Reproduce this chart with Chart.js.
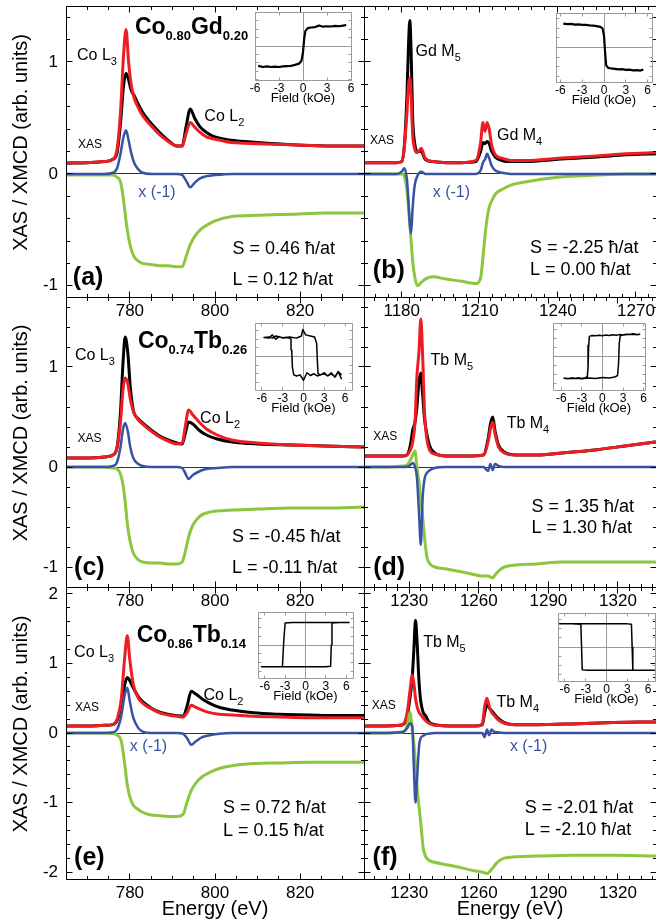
<!DOCTYPE html>
<html lang="en">
<head>
  <meta charset="UTF-8" />
  <title>XAS / XMCD - CoGd, CoTb</title>
  <script src="https://cdn.jsdelivr.net/npm/chart.js@4.4.1/dist/chart.umd.min.js"></script>
  <style>
    body { margin: 0; background: #fff; }
    #fig { position: relative; width: 656px; height: 921px; overflow: hidden; background: #fff; }
    #fig canvas { position: absolute; }
  </style>
</head>
<body>
<div id="fig"></div>
<script>
const FONT = '"Liberation Sans", Arial, Helvetica, sans-serif';
const BLACK = '#000000', RED = '#ee1d23', BLUE = '#3853a4', GREEN = '#8dc63f';

// tick labels
const xTicksCo = [780, 800, 820];
const xTicksGd = [1180, 1210, 1240, 1270];
const xTicksTb = [1230, 1260, 1290, 1320];
const yTicksTop = [-1, 0, 1];
const yTicksBot = [-2, -1, 0, 1, 2];
const fieldTicks = [-6, -3, 0, 3, 6];

// (a) Co0.80Gd0.20, Co L edge
const eA     = [765, 770, 774, 776, 777, 777.8, 778.5, 779.1, 779.7, 780.3, 781, 782, 783, 785, 787, 789, 791, 792.3, 793.2, 794.2, 795.2, 796.5, 798, 800, 804, 810, 818, 826, 835];
const blackA = [0.095, 0.1, 0.11, 0.13, 0.19, 0.45, 0.78, 0.9, 0.84, 0.75, 0.7, 0.62, 0.55, 0.45, 0.37, 0.3, 0.25, 0.25, 0.42, 0.58, 0.5, 0.42, 0.37, 0.33, 0.3, 0.28, 0.26, 0.25, 0.25];
const redA   = [0.1, 0.1, 0.11, 0.13, 0.22, 0.55, 1.05, 1.29, 1.0, 0.8, 0.68, 0.59, 0.52, 0.43, 0.35, 0.29, 0.25, 0.25, 0.36, 0.46, 0.42, 0.37, 0.33, 0.31, 0.28, 0.27, 0.26, 0.25, 0.25];
const blueA  = [0, 0, 0, 0.01, 0.05, 0.18, 0.33, 0.39, 0.3, 0.19, 0.1, 0.04, 0.01, 0, 0, 0, 0, -0.01, -0.06, -0.12, -0.08, -0.04, -0.02, -0.01, 0, 0, 0, 0, 0];
const greenA = [-0.01, -0.01, -0.01, -0.01, -0.03, -0.07, -0.23, -0.42, -0.57, -0.67, -0.74, -0.78, -0.8, -0.81, -0.82, -0.82, -0.83, -0.83, -0.74, -0.63, -0.56, -0.5, -0.46, -0.42, -0.38, -0.37, -0.36, -0.35, -0.35];

// (b) Co0.80Gd0.20, Gd M edge
const eB     = [1165.5, 1172, 1178, 1180, 1181, 1182, 1182.6, 1183.1, 1183.6, 1184.2, 1185, 1186, 1187.5, 1189, 1192, 1197, 1203, 1208.5, 1210.3, 1211.2, 1212, 1212.8, 1213.6, 1214.6, 1216, 1218.5, 1222, 1228, 1240, 1255, 1266, 1277.7];
const blackB = [0.1, 0.1, 0.1, 0.11, 0.25, 0.7, 1.15, 1.37, 1.1, 0.5, 0.27, 0.2, 0.2, 0.13, 0.11, 0.1, 0.1, 0.11, 0.2, 0.28, 0.27, 0.29, 0.27, 0.2, 0.15, 0.12, 0.11, 0.11, 0.13, 0.15, 0.17, 0.18];
const redB   = [0.1, 0.1, 0.1, 0.11, 0.24, 0.55, 0.8, 0.86, 0.7, 0.35, 0.22, 0.19, 0.23, 0.14, 0.11, 0.1, 0.1, 0.12, 0.28, 0.46, 0.38, 0.46, 0.4, 0.25, 0.17, 0.14, 0.12, 0.12, 0.14, 0.16, 0.18, 0.19];
const blueB  = [0, 0, 0, 0.02, 0.05, -0.05, -0.25, -0.45, -0.53, -0.3, -0.1, -0.02, 0.02, 0, 0, 0, 0, 0, 0.03, 0.1, 0.13, 0.18, 0.14, 0.07, 0.03, 0.01, 0, 0, 0, 0, 0, 0];
const greenB = [0, 0, 0, 0, -0.02, -0.15, -0.3, -0.45, -0.6, -0.78, -0.92, -1.0, -0.97, -0.94, -0.92, -0.94, -0.96, -0.98, -0.93, -0.75, -0.55, -0.4, -0.3, -0.24, -0.18, -0.14, -0.1, -0.07, -0.03, -0.01, 0, 0];

// (c) Co0.74Tb0.26, Co L edge
const eC     = [765, 770, 774, 776, 777, 777.8, 778.4, 778.9, 779.5, 780.1, 780.8, 782, 783, 785, 787, 789, 791, 792.3, 793, 793.8, 794.8, 796.5, 798, 800.5, 804, 810, 818, 826, 835];
const blackC = [0.09, 0.09, 0.1, 0.12, 0.2, 0.55, 1.05, 1.3, 1.15, 0.8, 0.57, 0.48, 0.44, 0.37, 0.31, 0.27, 0.24, 0.23, 0.33, 0.45, 0.43, 0.36, 0.32, 0.28, 0.25, 0.23, 0.22, 0.21, 0.2];
const redC   = [0.09, 0.09, 0.1, 0.12, 0.19, 0.45, 0.78, 0.89, 0.84, 0.68, 0.56, 0.47, 0.43, 0.36, 0.3, 0.26, 0.23, 0.24, 0.4, 0.57, 0.52, 0.44, 0.38, 0.32, 0.27, 0.24, 0.22, 0.21, 0.2];
const blueC  = [0, 0, 0, 0.01, 0.05, 0.2, 0.38, 0.44, 0.36, 0.2, 0.09, 0.03, 0.01, 0, 0, 0, 0, -0.01, -0.06, -0.12, -0.08, -0.04, -0.02, -0.01, 0, 0, 0, 0, 0];
const greenC = [0, 0, 0, -0.01, -0.02, -0.07, -0.18, -0.35, -0.6, -0.75, -0.86, -0.93, -0.95, -0.96, -0.96, -0.97, -0.97, -0.95, -0.85, -0.7, -0.58, -0.49, -0.46, -0.44, -0.43, -0.42, -0.41, -0.41, -0.4];

// (d) Co0.74Tb0.26, Tb M edge
const eD     = [1210.5, 1220, 1227, 1229, 1230.5, 1231.5, 1232.5, 1233.3, 1234.2, 1235, 1235.8, 1236.6, 1237.6, 1239, 1241, 1246, 1255, 1262, 1264, 1265, 1266, 1267, 1268.5, 1271, 1276, 1285, 1296, 1310, 1323, 1336];
const blackD = [0.11, 0.11, 0.11, 0.12, 0.22, 0.37, 0.45, 0.6, 0.85, 0.94, 0.72, 0.48, 0.33, 0.2, 0.14, 0.11, 0.11, 0.12, 0.28, 0.43, 0.5, 0.36, 0.22, 0.15, 0.12, 0.12, 0.14, 0.17, 0.21, 0.25];
const redD   = [0.11, 0.11, 0.11, 0.12, 0.17, 0.25, 0.45, 0.9, 1.15, 1.48, 1.1, 0.55, 0.28, 0.16, 0.13, 0.11, 0.11, 0.12, 0.25, 0.38, 0.45, 0.33, 0.2, 0.14, 0.12, 0.12, 0.14, 0.17, 0.21, 0.25];
const blueD  = [0, 0, 0, 0, 0.02, 0.04, 0, -0.1, -0.45, -0.78, -0.3, -0.12, -0.06, -0.03, -0.01, 0, 0, 0, -0.04, 0.03, -0.03, 0.03, 0.01, 0, 0, 0, 0, 0, 0, 0];
const greenD = [0, 0, 0.01, 0.02, 0.07, 0.12, 0.16, 0, -0.15, -0.33, -0.5, -0.7, -0.9, -0.97, -1.0, -1.02, -1.06, -1.09, -1.09, -1.1, -1.11, -1.08, -1.04, -1.0, -0.98, -0.97, -0.95, -0.95, -0.95, -0.95];

// (e) Co0.86Tb0.14, Co L edge
const eE     = [765, 770, 774, 776, 777, 778, 778.8, 779.4, 780, 780.8, 782, 783, 785, 787, 789, 791, 792.5, 793.5, 794.4, 795.5, 797, 799, 801, 804, 809, 815, 822, 828, 835];
const blackE = [0.1, 0.1, 0.11, 0.12, 0.18, 0.4, 0.7, 0.8, 0.75, 0.65, 0.52, 0.45, 0.36, 0.3, 0.27, 0.25, 0.24, 0.4, 0.6, 0.56, 0.49, 0.42, 0.37, 0.33, 0.29, 0.27, 0.26, 0.25, 0.25];
const redE   = [0.1, 0.1, 0.11, 0.12, 0.2, 0.5, 1.1, 1.4, 1.05, 0.7, 0.5, 0.43, 0.35, 0.29, 0.26, 0.24, 0.23, 0.3, 0.4, 0.37, 0.33, 0.29, 0.27, 0.26, 0.24, 0.23, 0.22, 0.22, 0.22];
const blueE  = [0, 0, 0, 0.01, 0.05, 0.25, 0.55, 0.65, 0.45, 0.22, 0.07, 0.02, 0, 0, 0, 0, -0.01, -0.08, -0.17, -0.12, -0.06, -0.03, -0.01, 0, 0, 0, 0, 0, 0];
const greenE = [0, 0, 0, -0.01, -0.03, -0.12, -0.45, -0.75, -0.92, -1.04, -1.1, -1.14, -1.18, -1.19, -1.2, -1.2, -1.17, -0.98, -0.83, -0.72, -0.63, -0.56, -0.51, -0.47, -0.44, -0.43, -0.42, -0.42, -0.42];

// (f) Co0.86Tb0.14, Tb M edge
const eF     = [1210.5, 1220, 1226, 1228, 1229.3, 1230.3, 1231.3, 1232, 1232.7, 1233.4, 1234.2, 1235, 1236, 1237, 1238.5, 1241, 1250, 1258, 1261.5, 1262.5, 1263.5, 1264.5, 1265.5, 1266.5, 1268, 1271, 1276, 1285, 1300, 1318, 1336];
const blackF = [0.1, 0.1, 0.11, 0.14, 0.28, 0.5, 0.8, 1.2, 1.62, 1.3, 0.75, 0.45, 0.3, 0.25, 0.16, 0.12, 0.1, 0.1, 0.12, 0.28, 0.42, 0.36, 0.32, 0.28, 0.22, 0.15, 0.12, 0.12, 0.13, 0.15, 0.16];
const redF   = [0.1, 0.1, 0.11, 0.15, 0.33, 0.6, 0.83, 0.72, 0.5, 0.38, 0.3, 0.26, 0.22, 0.18, 0.14, 0.11, 0.1, 0.1, 0.12, 0.38, 0.5, 0.38, 0.3, 0.26, 0.2, 0.14, 0.12, 0.12, 0.13, 0.15, 0.16];
const blueF  = [0, 0, 0.01, 0.03, 0.08, 0.14, 0.1, -0.5, -1.0, -0.65, -0.2, -0.07, -0.04, -0.02, -0.01, 0, 0, 0, 0, -0.06, 0.05, -0.03, 0.05, 0.02, 0.01, 0, 0, 0, 0, 0, 0];
const greenF = [0, 0, 0.01, 0.03, 0.13, 0.3, 0.05, -0.15, -0.45, -0.8, -1.05, -1.3, -1.65, -1.77, -1.83, -1.86, -1.92, -1.98, -2.0, -2.01, -2.02, -2.0, -1.96, -1.92, -1.86, -1.8, -1.78, -1.77, -1.76, -1.76, -1.77];

// hysteresis loops (field kOe, normalised signal)
const hA = [-5.6, -5, -4.5, -4, -3.5, -3, -2.5, -2, -1.5, -1, -0.5, -0.2, 0, 0.15, 0.3, 0.6, 1, 1.5, 2, 2.5, 3, 3.5, 4, 4.5, 5, 5.4];
const mA = [-0.95, -1.0, -0.97, -1.0, -0.98, -1.0, -0.97, -0.96, -0.95, -0.9, -0.84, -0.72, -0.3, 0.35, 0.72, 0.85, 0.88, 0.9, 0.98, 0.92, 0.94, 0.93, 0.96, 0.94, 0.97, 1.0];
const hB = [-5.6, -5, -4.5, -4, -3.5, -3, -2.5, -2, -1.5, -1, -0.5, -0.2, 0, 0.15, 0.3, 0.6, 1, 1.5, 2, 2.5, 3, 3.5, 4, 4.5, 5, 5.4];
const mB = [1.0, 0.98, 0.99, 0.96, 0.97, 0.95, 0.95, 0.93, 0.92, 0.9, 0.87, 0.8, 0.5, -0.2, -0.75, -0.86, -0.88, -0.9, -0.92, -0.91, -0.94, -0.93, -0.96, -0.95, -0.97, -0.93];
const hC = [5.5, 5, 4.6, 4, 3.5, 3, 2.5, 2, 1.5, 1, 0.5, 0, -0.5, -1, -1.4, -1.6, -1.7, -1.8, -2.2, -3, -3.5, -4, -4.5, -5, -5.7,
            -5, -4.5, -4, -3, -2, -1, -0.3, -0.1, 0.3, 1, 1.6, 1.9, 2.0, 2.1, 2.5, 3, 3.5, 4, 4.5, 5, 5.5];
const mC = [-0.85, -0.7, -0.95, -0.8, -0.9, -0.75, -0.85, -0.9, -0.8, -0.88, -0.75, -1.1, -0.85, -0.9, -0.85, -0.5, 0.3, 0.8, 0.88, 0.85, 0.92, 0.8, 1.0, 0.85, 0.88,
            0.9, 0.85, 0.95, 0.87, 0.9, 0.85, 0.95, 1.25, 1.0, 0.95, 0.9, 0.6, -0.2, -0.8, -0.85, -0.8, -0.9, -0.75, -0.95, -0.7, -1.05];
const hD = [5.5, 5, 4.5, 4, 3.5, 3, 2.5, 2, 1.5, 1, 0.5, 0, -0.5, -1, -1.5, -1.9, -2.0, -2.1, -2.2, -2.5, -3, -3.5, -4, -4.5, -5, -5.6,
            -5, -4, -3, -2, -1, 0, 1, 1.8, 2.2, 2.35, 2.45, 2.6, 3, 4, 5, 5.5];
const mD = [1.0, 0.97, 1.02, 0.98, 1.0, 0.96, 0.98, 0.95, 0.97, 0.94, 0.96, 0.93, 0.95, 0.93, 0.94, 0.9, 0.5, -0.5, -0.9, -0.95, -0.98, -0.95, -0.99, -0.96, -1.0, -0.97,
            -0.99, -0.97, -1.0, -0.96, -0.98, -0.94, -0.96, -0.92, -0.85, -0.3, 0.6, 0.93, 0.96, 1.0, 0.98, 1.0];
const hE = [6.5, 5, 3, 0, -2, -3.0, -3.2, -3.4, -5, -6.5, -5, -3, 0, 3, 3.7, 3.8, 3.9, 5, 6.5];
const mE = [1.0, 1.0, 1.0, 1.0, 1.0, 0.98, 0.2, -0.97, -0.97, -0.97, -0.97, -0.97, -0.97, -0.97, -0.95, 0, 0.98, 1.0, 1.0];
const hF = [7, 5, 3, 0, -3, -3.5, -3.6, -3.7, -5, -6.8, -5, -3, 0, 3, 3.6, 3.7, 3.8, 5, 7];
const mF = [-1.0, -1.0, -1.0, -1.0, -1.0, -0.98, 0, 0.98, 1.0, 1.0, 1.0, 1.0, 1.0, 1.0, 0.98, 0, -1.0, -1.0, -1.0];

Chart.defaults.font.family = FONT;
Chart.defaults.color = '#000';

const fig = document.getElementById('fig');
function addCanvas(left, top, w, h) {
  const c = document.createElement('canvas');
  c.width = w; c.height = h;
  c.style.left = left + 'px';
  c.style.top = top + 'px';
  fig.appendChild(c);
  return c;
}

const f = (size, bold) => (bold ? 'bold ' : '') + size + 'px ' + FONT;
const pts = (xs, ys) => xs.map((x, i) => ({ x, y: ys[i] }));
const near = (list, v) => list.some(m => Math.abs(m - v) < 1e-6);

// border, inward ticks, zero lines and text labels
function framePlugin(p) {
  const at = v => Math.floor(v) + 0.5;
  const steps = (min, max, step) => {
    const out = [];
    for (let v = Math.ceil(min / step - 1e-9) * step; v <= max + 1e-9; v += step) out.push(Math.round(v * 1000) / 1000);
    return out;
  };
  return {
    id: 'frame',
    beforeDatasetsDraw(chart) {
      const { ctx, chartArea: a, scales: { x, y } } = chart;
      ctx.save();
      ctx.strokeStyle = p.zeroColor;
      ctx.lineWidth = 1;
      ctx.beginPath();
      if (p.zeroY) { const yy = at(y.getPixelForValue(0)); ctx.moveTo(a.left, yy); ctx.lineTo(a.right, yy); }
      if (p.zeroX) { const xx = at(x.getPixelForValue(0)); ctx.moveTo(xx, a.top); ctx.lineTo(xx, a.bottom); }
      ctx.stroke();
      ctx.restore();
    },
    afterDatasetsDraw(chart) {
      const { ctx, chartArea: a, scales: { x, y } } = chart;
      const L = at(a.left), R = at(a.right), T = at(a.top), B = at(a.bottom);
      ctx.save();
      ctx.strokeStyle = p.frameColor;
      ctx.lineWidth = 1;
      ctx.beginPath();
      ctx.moveTo(L, T); ctx.lineTo(R, T);
      ctx.moveTo(L, B); ctx.lineTo(R, B);
      ctx.moveTo(L, T); ctx.lineTo(L, B);
      ctx.moveTo(R, T); ctx.lineTo(R, B);
      ctx.stroke();

      ctx.strokeStyle = p.tickColor;
      ctx.beginPath();
      steps(x.min, x.max, p.xStep).forEach(v => {
        const px = at(x.getPixelForValue(v));
        const len = near(p.xMajor, v) ? p.major : p.minor;
        ctx.moveTo(px, B); ctx.lineTo(px, B - len);
        ctx.moveTo(px, T); ctx.lineTo(px, T + len);
      });
      steps(y.min, y.max, p.yStep).forEach(v => {
        const py = at(y.getPixelForValue(v));
        const len = near(p.yMajor, v) ? p.major : p.minor;
        ctx.moveTo(L, py); ctx.lineTo(L + len, py);
        ctx.moveTo(R, py); ctx.lineTo(R - len, py);
      });
      ctx.stroke();

      ctx.textAlign = 'left';
      ctx.textBaseline = 'alphabetic';
      (p.notes || []).forEach(n => {
        let cx = x.getPixelForValue(n.x);
        const cy = y.getPixelForValue(n.y);
        ctx.fillStyle = n.color || '#000';
        n.parts.forEach(([t, font, dy]) => {
          ctx.font = font;
          ctx.fillText(t, cx, cy + (dy || 0));
          cx += ctx.measureText(t).width;
        });
      });

      if (p.yTitle) {
        ctx.translate(21, (a.top + a.bottom) / 2 - 9);
        ctx.rotate(-Math.PI / 2);
        ctx.font = f(20);
        ctx.fillStyle = '#000';
        ctx.textAlign = 'center';
        ctx.textBaseline = 'middle';
        ctx.fillText(p.yTitle, 0, 0);
      }
      ctx.restore();
    }
  };
}

function fixAxis(w, h) {
  return s => {
    if (w !== undefined) s.width = w;
    if (h !== undefined) s.height = h;
    s.paddingLeft = s.paddingRight = s.paddingTop = s.paddingBottom = 0;
  };
}

function curve(e, v, color, width, order) {
  return { data: pts(e, v), borderColor: color, borderWidth: width, order,
           pointRadius: 0, fill: false, cubicInterpolationMode: 'monotone',
           borderJoinStyle: 'round', borderCapStyle: 'round' };
}

function spectrumPanel(s) {
  const left = s.col === 0;
  const cv = addCanvas(left ? 0 : 330, s.top, left ? 366 : 326, s.height);
  return new Chart(cv, {
    type: 'line',
    data: { datasets: [
      curve(s.e, s.blue, BLUE, 2.5, 1),
      curve(s.e, s.green, GREEN, 3, 2),
      curve(s.e, s.red, RED, 3, 3),
      curve(s.e, s.black, BLACK, 3, 4)
    ] },
    options: {
      responsive: false, animation: false, devicePixelRatio: 1, events: [],
      layout: { autoPadding: false, padding: { top: 6, right: left ? 2 : 0, left: 0, bottom: 0 } },
      plugins: { legend: { display: false }, tooltip: { enabled: false } },
      scales: {
        x: {
          type: 'linear', min: s.xMin, max: s.xMax,
          grid: { display: false, drawTicks: false }, border: { display: false },
          afterBuildTicks: ax => { ax.ticks = s.xTicks.map(v => ({ value: v })); },
          afterFit: fixAxis(undefined, s.xH),
          ticks: { display: true, padding: 4, autoSkip: false, maxRotation: 0, color: '#000',
                   font: { size: 17 }, callback: v => String(v) },
          title: { display: !!s.xTitle, text: s.xTitle || '', font: { size: 20 }, color: '#000', padding: 0 }
        },
        y: {
          type: 'linear', min: s.yMin, max: s.yMax,
          grid: { display: false, drawTicks: false }, border: { display: false },
          afterBuildTicks: ax => { ax.ticks = s.yTicks.map(v => ({ value: v })); },
          afterFit: fixAxis(left ? 66 : 34, undefined),
          ticks: { display: left, padding: 8, autoSkip: false, color: '#000',
                   font: { size: 17 }, callback: v => String(v) }
        }
      }
    },
    plugins: [framePlugin({
      frameColor: '#000', tickColor: '#000', zeroColor: '#333', zeroY: true,
      xStep: 5, yStep: 0.2, xMajor: s.xTicks, yMajor: s.yTicks, major: 6, minor: 3.5,
      notes: s.notes, yTitle: left ? 'XAS / XMCD (arb. units)' : null
    })]
  });
}

function loopInset(s) {
  const cv = addCanvas(s.bx - 10, s.by - 4, s.bw + 20, s.bh + 30);
  return new Chart(cv, {
    type: 'line',
    data: { datasets: [{ data: pts(s.h, s.m), borderColor: '#000', borderWidth: s.lw,
                         pointRadius: 0, fill: false, tension: 0, borderJoinStyle: 'round' }] },
    options: {
      responsive: false, animation: false, devicePixelRatio: 1, events: [],
      layout: { autoPadding: false, padding: { top: 4, right: 10, left: 0, bottom: 0 } },
      plugins: { legend: { display: false }, tooltip: { enabled: false } },
      scales: {
        x: {
          type: 'linear', min: s.hMin, max: s.hMax,
          grid: { display: false, drawTicks: false }, border: { display: false },
          afterBuildTicks: ax => { ax.ticks = fieldTicks.map(v => ({ value: v })); },
          afterFit: fixAxis(undefined, 26),
          ticks: { padding: 1, autoSkip: false, maxRotation: 0, color: '#000',
                   font: { size: 12 }, callback: v => String(v) },
          title: { display: true, text: 'Field (kOe)', font: { size: 13 }, color: '#000', padding: 0 }
        },
        y: {
          type: 'linear', min: -s.mMax, max: s.mMax,
          grid: { display: false, drawTicks: false }, border: { display: false },
          afterFit: fixAxis(10, undefined),
          ticks: { display: false }
        }
      }
    },
    plugins: [framePlugin({
      frameColor: '#9a9a9a', tickColor: '#9a9a9a', zeroColor: '#9a9a9a', zeroY: true, zeroX: true,
      xStep: 3, yStep: 0.4, xMajor: [], yMajor: [], major: 3, minor: 3
    })]
  });
}

// text labels
const t = (x, y, parts, color) => ({ x, y, parts, color });
const edge = (name, n) => [[name, f(16)], [n, f(11), 5]];
const comp = (a, na, b, nb) => [[a, f(23, 1)], [na, f(13, 1), 6], [b, f(23, 1)], [nb, f(13, 1), 6]];

const notesA = [
  t(781.2, 1.25, comp('Co', '0.80', 'Gd', '0.20')),
  t(767.6, 1.02, edge('Co L', '3')),
  t(797.5, 0.47, edge('Co L', '2')),
  t(767.8, 0.23, [['XAS', f(12)]]),
  t(782, -0.21, [['x (-1)', f(16)]], BLUE),
  t(804.1, -0.72, [['S = 0.46 ħ/at', f(18)]]),
  t(804.1, -0.99, [['L = 0.12 ħ/at', f(18)]]),
  t(766.6, -0.99, [['(a)', f(25, 1)]])
];
const notesB = [
  t(1185.3, 1.05, edge('Gd M', '5')),
  t(1216.6, 0.30, edge('Gd M', '4')),
  t(1167.8, 0.27, [['XAS', f(12)]]),
  t(1191.9, -0.21, [['x (-1)', f(16)]], BLUE),
  t(1229.3, -0.71, [['S = -2.25 ħ/at', f(18)]]),
  t(1229.3, -0.9, [['L = 0.00 ħ/at', f(18)]]),
  t(1168.9, -0.93, [['(b)', f(25, 1)]])
];
const notesC = [
  t(781.9, 1.19, comp('Co', '0.74', 'Tb', '0.26')),
  t(767.1, 1.07, edge('Co L', '3')),
  t(796.5, 0.44, edge('Co L', '2')),
  t(767.7, 0.25, [['XAS', f(12)]]),
  t(804, -0.75, [['S = -0.45 ħ/at', f(18)]]),
  t(804, -1.06, [['L = -0.11 ħ/at', f(18)]]),
  t(766.9, -1.08, [['(c)', f(25, 1)]])
];
const notesD = [
  t(1239.2, 1.02, edge('Tb M', '5')),
  t(1272, 0.39, edge('Tb M', '4')),
  t(1214.5, 0.27, [['XAS', f(12)]]),
  t(1282.7, -0.45, [['S = 1.35 ħ/at', f(18)]]),
  t(1282.7, -0.66, [['L = 1.30 ħ/at', f(18)]]),
  t(1214.5, -1.08, [['(d)', f(25, 1)]])
];
const notesE = [
  t(781.6, 1.31, comp('Co', '0.86', 'Tb', '0.14')),
  t(766.9, 1.09, edge('Co L', '3')),
  t(797.3, 0.47, edge('Co L', '2')),
  t(767.1, 0.32, [['XAS', f(12)]]),
  t(780, -0.26, [['x (-1)', f(16)]], BLUE),
  t(801.9, -1.15, [['S = 0.72 ħ/at', f(18)]]),
  t(801.9, -1.48, [['L = 0.15 ħ/at', f(18)]]),
  t(766.9, -1.9, [['(e)', f(25, 1)]])
];
const notesF = [
  t(1236, 1.24, edge('Tb M', '5')),
  t(1267.6, 0.37, edge('Tb M', '4')),
  t(1213.8, 0.35, [['XAS', f(12)]]),
  t(1273.4, -0.26, [['x (-1)', f(16)]], BLUE),
  t(1279.8, -1.15, [['S = -2.01 ħ/at', f(18)]]),
  t(1279.8, -1.47, [['L = -2.10 ħ/at', f(18)]]),
  t(1214.2, -1.9, [['(f)', f(25, 1)]])
];

// row 1
spectrumPanel({ col: 0, top: 0, height: 327, xH: 30, xMin: 765, xMax: 835, yMin: -1.1, yMax: 1.5,
  xTicks: xTicksCo, yTicks: yTicksTop, e: eA, black: blackA, red: redA, blue: blueA, green: greenA, notes: notesA });
spectrumPanel({ col: 1, top: 0, height: 327, xH: 30, xMin: 1165.5, xMax: 1277.7, yMin: -1.1, yMax: 1.5,
  xTicks: xTicksGd, yTicks: yTicksTop, e: eB, black: blackB, red: redB, blue: blueB, green: greenB, notes: notesB });
// row 2
spectrumPanel({ col: 0, top: 291, height: 326, xH: 30, xMin: 765, xMax: 835, yMin: -1.2, yMax: 1.7,
  xTicks: xTicksCo, yTicks: yTicksTop, e: eC, black: blackC, red: redC, blue: blueC, green: greenC, notes: notesC });
spectrumPanel({ col: 1, top: 291, height: 326, xH: 30, xMin: 1210.5, xMax: 1336.4, yMin: -1.2, yMax: 1.7,
  xTicks: xTicksTb, yTicks: yTicksTop, e: eD, black: blackD, red: redD, blue: blueD, green: greenD, notes: notesD });
// row 3
spectrumPanel({ col: 0, top: 581, height: 340, xH: 42, xMin: 765, xMax: 835, yMin: -2.1, yMax: 2.1, xTitle: 'Energy (eV)',
  xTicks: xTicksCo, yTicks: yTicksBot, e: eE, black: blackE, red: redE, blue: blueE, green: greenE, notes: notesE });
spectrumPanel({ col: 1, top: 581, height: 340, xH: 42, xMin: 1210.5, xMax: 1336.4, yMin: -2.1, yMax: 2.1, xTitle: 'Energy (eV)',
  xTicks: xTicksTb, yTicks: yTicksBot, e: eF, black: blackF, red: redF, blue: blueF, green: greenF, notes: notesF });

// insets
loopInset({ bx: 255, by: 12, bw: 96, bh: 68, hMin: -6, hMax: 6, mMax: 1.62, h: hA, m: mA, lw: 2.2 });
loopInset({ bx: 556, by: 13, bw: 96, bh: 69, hMin: -6.6, hMax: 6.6, mMax: 1.45, h: hB, m: mB, lw: 2.2 });
loopInset({ bx: 255, by: 323, bw: 97, bh: 67, hMin: -7, hMax: 7, mMax: 1.55, h: hC, m: mC, lw: 1.5 });
loopInset({ bx: 553, by: 323, bw: 92, bh: 67, hMin: -7.2, hMax: 6.2, mMax: 1.5, h: hD, m: mD, lw: 1.5 });
loopInset({ bx: 258, by: 612, bw: 95, bh: 66, hMin: -7, hMax: 7, mMax: 1.47, h: hE, m: mE, lw: 1.5 });
loopInset({ bx: 558, by: 613, bw: 97, bh: 68, hMin: -7, hMax: 7, mMax: 1.47, h: hF, m: mF, lw: 1.5 });
</script>
</body>
</html>
